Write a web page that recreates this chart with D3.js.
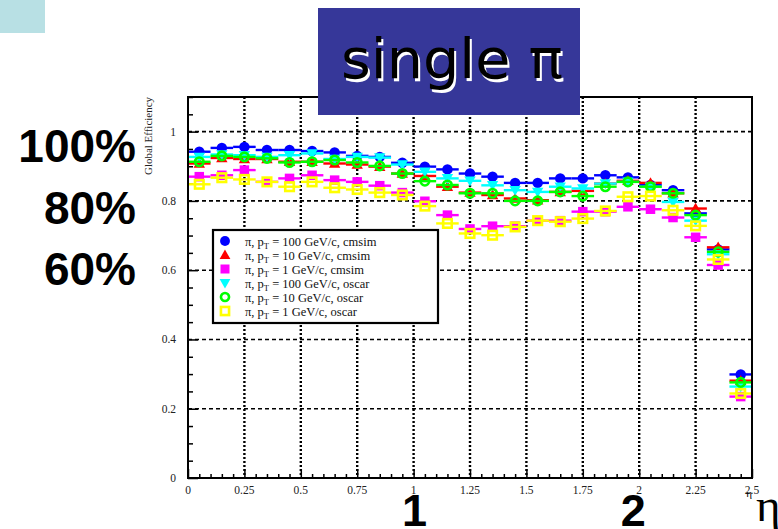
<!DOCTYPE html>
<html><head><meta charset="utf-8">
<script src="https://cdn.jsdelivr.net/npm/d3@7/dist/d3.min.js"></script>
<style>body{margin:0;background:#fff}svg{display:block}</style>
</head><body>
<svg id="c" width="778" height="529"></svg>
<script>
const etaBins = [0.05,0.15,0.25,0.35,0.45,0.55,0.65,0.75,0.85,0.95,1.05,1.15,1.25,1.35,1.45,1.55,1.65,1.75,1.85,1.95,2.05,2.15,2.25,2.35,2.45];
const binHalfWidth = 0.05;
const cmsim100 = [0.942,0.953,0.956,0.947,0.947,0.944,0.940,0.930,0.927,0.910,0.899,0.891,0.879,0.870,0.852,0.852,0.865,0.865,0.874,0.868,0.846,0.831,0.764,0.660,0.299];
const cmsim10  = [0.908,0.924,0.921,0.921,0.913,0.913,0.908,0.905,0.899,0.879,0.872,0.841,0.824,0.817,0.807,0.802,0.826,0.829,0.850,0.858,0.852,0.822,0.778,0.666,0.281];
const cmsim1   = [0.870,0.874,0.889,0.855,0.865,0.874,0.860,0.855,0.844,0.824,0.799,0.759,0.719,0.727,0.727,0.743,0.743,0.769,0.769,0.783,0.776,0.752,0.695,0.615,0.235];
const oscar100 = [0.927,0.934,0.932,0.927,0.932,0.937,0.921,0.927,0.925,0.905,0.884,0.865,0.858,0.845,0.831,0.826,0.841,0.836,0.850,0.855,0.841,0.797,0.743,0.646,0.264];
const oscar10  = [0.913,0.930,0.927,0.923,0.911,0.913,0.918,0.911,0.901,0.879,0.857,0.846,0.822,0.822,0.800,0.800,0.826,0.814,0.841,0.855,0.841,0.822,0.759,0.653,0.276];
const oscar1   = [0.848,0.867,0.862,0.855,0.841,0.855,0.838,0.833,0.824,0.817,0.785,0.735,0.706,0.701,0.725,0.743,0.740,0.749,0.771,0.812,0.814,0.773,0.728,0.631,0.244];
const seriesNames = ["100 GeV/c, cmsim","10 GeV/c, cmsim","1 GeV/c, cmsim","100 GeV/c, oscar","10 GeV/c, oscar","1 GeV/c, oscar"];
const seriesColors = ["#0000ff","#ff0000","#ff00ff","#00ffff","#00ff00","#ffff00"];
const seriesMarkers = ["circle","triangle","square","triangleDown","openCircle","openSquare"];
const xTicks = [0,0.25,0.5,0.75,1,1.25,1.5,1.75,2,2.25,2.5];
const xTickLabels = ["0","0.25","0.5","0.75","1","1.25","1.5","1.75","2","2.25","2.5"];
const yTicks = [0,0.2,0.4,0.6,0.8,1];
const yTickLabels = ["0","0.2","0.4","0.6","0.8","1"];
const percentLabels = ["100%","80%","60%"];
const bigEtaLabels = ["1","2"];

const allSeries = [cmsim100,cmsim10,cmsim1,oscar100,oscar10,oscar1];
const svg = d3.select("#c");
const x = d3.scaleLinear().domain([0,2.5]).range([188,752]);
const y = d3.scaleLinear().domain([0,1.1]).range([478,97]);

svg.append("rect").attr("x",0).attr("y",0).attr("width",45).attr("height",33).attr("fill","#b8e0e4");

const g = svg.append("g");
g.selectAll(".vg").data(xTicks.filter(t=>t>0&&t<2.5)).enter().append("line")
  .attr("x1",d=>x(d)).attr("x2",d=>x(d)).attr("y1",y(1.1)).attr("y2",y(0))
  .attr("stroke","#000").attr("stroke-width",2.4).attr("stroke-dasharray","2,2");
g.selectAll(".hg").data(yTicks.filter(t=>t>0)).enter().append("line")
  .attr("x1",x(0)).attr("x2",x(2.5)).attr("y1",d=>y(d)).attr("y2",d=>y(d))
  .attr("stroke","#000").attr("stroke-width",1.6).attr("stroke-dasharray","4,3");

const xAxis = d3.axisBottom(x).tickValues(d3.range(0,2.5001,0.05)).tickSize(-4).tickFormat("");
const gx = svg.append("g").attr("transform",`translate(0,${y(0)})`).call(xAxis);
gx.select(".domain").remove();
gx.selectAll(".tick line").attr("stroke","#000").attr("stroke-width",1.5)
  .attr("y2",(d)=> Math.abs(d/0.25-Math.round(d/0.25))<1e-6 ? -9 : -4);
const yAxis = d3.axisLeft(y).tickValues(d3.range(0,1.1001,0.05)).tickSize(-5).tickFormat("");
const gy = svg.append("g").attr("transform",`translate(${x(0)},0)`).call(yAxis);
gy.select(".domain").remove();
gy.selectAll(".tick line").attr("stroke","#000").attr("stroke-width",1.5)
  .attr("x2",(d)=> Math.abs(d/0.2-Math.round(d/0.2))<1e-6 ? 10 : 5);

svg.selectAll(".xl").data(xTicks).enter().append("text")
  .attr("x",(d)=>x(d)).attr("y",494).attr("text-anchor","middle")
  .attr("font-family","Liberation Serif, serif").attr("font-size",11.5).attr("fill","#222")
  .text((d,i)=>xTickLabels[i]);
svg.selectAll(".yl").data(yTicks).enter().append("text")
  .attr("x",176).attr("y",(d)=>y(d)+4).attr("text-anchor","end")
  .attr("font-family","Liberation Serif, serif").attr("font-size",11.5).attr("fill","#222")
  .text((d,i)=>yTickLabels[i]);

svg.append("text").attr("transform","translate(152,97) rotate(-90)").attr("text-anchor","end")
  .attr("font-family","Liberation Serif, serif").attr("font-size",10.5).attr("fill","#222")
  .attr("textLength",78).attr("lengthAdjust","spacingAndGlyphs").text("Global Efficiency");
svg.append("text").attr("x",752).attr("y",497).attr("text-anchor","end")
  .attr("font-family","Liberation Serif, serif").attr("font-size",11).text("η");

function marker(sel, type, color, s) {
  if (type==="circle") sel.append("circle").attr("r",s*0.55).attr("fill",color);
  else if (type==="openCircle") sel.append("circle").attr("r",s*0.45).attr("fill","none").attr("stroke",color).attr("stroke-width",2.6);
  else if (type==="square") sel.append("rect").attr("x",-s*0.5).attr("y",-s*0.5).attr("width",s).attr("height",s).attr("fill",color);
  else if (type==="openSquare") sel.append("rect").attr("x",-s*0.45).attr("y",-s*0.45).attr("width",s*0.9).attr("height",s*0.9).attr("fill","none").attr("stroke",color).attr("stroke-width",2.6);
  else if (type==="triangle") sel.append("path").attr("d",`M0,${-s*0.6}L${s*0.6},${s*0.45}L${-s*0.6},${s*0.45}Z`).attr("fill",color);
  else if (type==="triangleDown") sel.append("path").attr("d",`M0,${s*0.6}L${s*0.6},${-s*0.45}L${-s*0.6},${-s*0.45}Z`).attr("fill",color);
}

const plot = svg.append("g");
allSeries.forEach((vals, si) => {
  const col = seriesColors[si];
  const sg = plot.append("g");
  sg.selectAll("line").data(vals).enter().append("line")
    .attr("x1",(d,i)=>x(etaBins[i]-binHalfWidth)).attr("x2",(d,i)=>x(etaBins[i]+binHalfWidth))
    .attr("y1",d=>y(d)).attr("y2",d=>y(d)).attr("stroke",col).attr("stroke-width",2.4);
  vals.forEach((d,i)=>{
    const m = sg.append("g").attr("transform",`translate(${x(etaBins[i])},${y(d)})`);
    marker(m, seriesMarkers[si], col, 9.5);
  });
});

svg.append("rect").attr("x",x(0)).attr("y",y(1.1)).attr("width",x(2.5)-x(0)).attr("height",y(0)-y(1.1))
  .attr("fill","none").attr("stroke","#000").attr("stroke-width",2);

const lg = svg.append("g");
lg.append("rect").attr("x",213).attr("y",230).attr("width",225).attr("height",93)
  .attr("fill","#fff").attr("stroke","#000").attr("stroke-width",2.2);
seriesNames.forEach((nm,i)=>{
  const yy = 241 + i*14;
  const m = lg.append("g").attr("transform",`translate(225,${yy})`);
  marker(m, seriesMarkers[i], seriesColors[i], 9);
  const t = lg.append("text").attr("x",245).attr("y",yy+4.5)
    .attr("font-family","Liberation Serif, serif").attr("font-size",12.5).attr("fill","#111");
  t.append("tspan").text("π, p");
  t.append("tspan").attr("font-size",8.5).attr("dy",3).text("T");
  t.append("tspan").attr("dy",-3).text(" = " + nm);
});

svg.append("rect").attr("x",318).attr("y",8).attr("width",262).attr("height",107).attr("fill","#363799");
svg.append("text").attr("x",343).attr("y",81).attr("font-family","DejaVu Sans, sans-serif")
  .attr("font-size",56).attr("fill","#fff").attr("textLength",222).attr("lengthAdjust","spacingAndGlyphs").text("single π");
svg.append("text").attr("x",341).attr("y",78).attr("font-family","DejaVu Sans, sans-serif")
  .attr("font-size",56).attr("fill","#000").attr("textLength",222).attr("lengthAdjust","spacingAndGlyphs").text("single π");

svg.selectAll(".pl").data(percentLabels).enter().append("text")
  .attr("x",136).attr("y",(d,i)=>162+i*61.5).attr("text-anchor","end")
  .attr("font-family","Liberation Sans, Arial, sans-serif").attr("font-weight","bold").attr("font-size",46)
  .text(d=>d);
svg.selectAll(".bl").data(bigEtaLabels).enter().append("text")
  .attr("x",(d)=>x(+d)+ (d==="1"?1:-6)).attr("y",526).attr("text-anchor","middle")
  .attr("font-family","Liberation Sans, Arial, sans-serif").attr("font-weight","bold").attr("font-size",45)
  .text(d=>d);
svg.append("text").attr("x",756).attr("y",521).attr("font-family","Liberation Serif, serif")
  .attr("font-size",47).text("η");
</script>
</body></html>
